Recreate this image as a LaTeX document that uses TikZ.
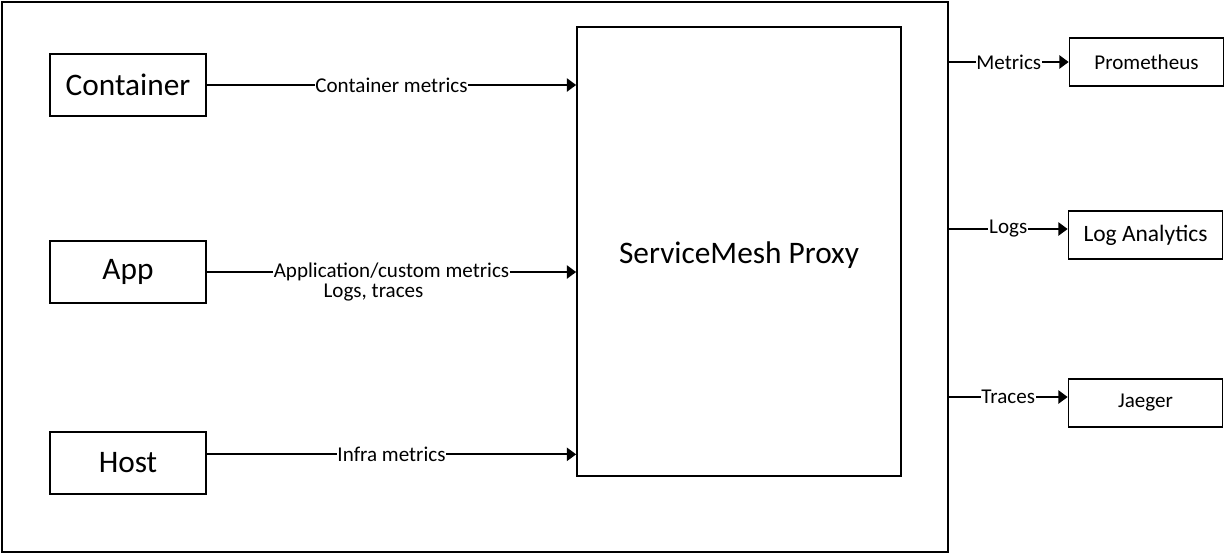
\documentclass[tikz,border=0pt]{standalone}
\usepackage{fontspec}
\setmainfont{Carlito}
\usetikzlibrary{arrows.meta}
\begin{document}
\begin{tikzpicture}[x=0.75pt,y=-0.75pt,
  box/.style={draw=black,line width=1.3pt,fill=white,inner sep=0pt,align=center},
  src/.style={box,minimum width=117pt,minimum height=46.5pt,font=\fontsize{23.5}{28}\selectfont},
  dst/.style={box,minimum width=115.5pt,minimum height=36pt,font=\fontsize{15.8}{19}\selectfont},
  arr/.style={line width=1.3pt,-{Triangle[length=7pt,width=10pt]}},
  lbl/.style={fill=white,inner sep=0.6pt,font=\fontsize{15.8}{19}\selectfont}]
\useasboundingbox (0,0) rectangle (1226,554);
\node[box,minimum width=709.5pt,minimum height=412.5pt] (outer) at (475,277) {};
\node[src] (container) at (128,85) {Container};
\node[src] (app) at (128,272) {App};
\node[src] (host) at (128,463) {Host};
\node[box,minimum width=243pt,minimum height=336.75pt] (proxy) at (739,251.5) {};
\node[font=\fontsize{23.5}{28}\selectfont,inner sep=0pt] (proxylbl) at ([yshift=-2.5pt]proxy.center) {ServiceMesh Proxy};
\node[dst] (prom) at (1146.5,62) {Prometheus};
\node[dst,font=\fontsize{17.6}{21}\selectfont] (la) at (1145.5,235) {Log Analytics};
\node[dst] (jaeger) at (1145.5,403) {Jaeger};

\draw[arr] (container.east) -- (container.east -| proxy.west) node[lbl,midway] {Container metrics};
\draw[arr] (app.east) -- (app.east -| proxy.west) node[lbl,midway] (applbl) {Application/custom metrics};
\node[font=\fontsize{15.8}{19}\selectfont,inner sep=0pt,anchor=north] (logslbl) at ([xshift=-13.5pt,yshift=-0.5pt]applbl.south) {Logs, traces};
\path ([yshift=6.5pt]host.east) coordinate (hs);
\draw[arr] (hs) -- (hs -| proxy.west) node[lbl,midway] {Infra metrics};

\draw[arr] (prom.west -| outer.east) -- (prom.west) node[lbl,midway] {Metrics};
\path ([yshift=4.5pt]la.west) coordinate (ls);
\draw[arr] (ls -| outer.east) -- (ls) node[lbl,midway] {Logs};
\path ([yshift=4.5pt]jaeger.west) coordinate (js);
\draw[arr] (js -| outer.east) -- (js) node[lbl,midway] {Traces};
\end{tikzpicture}
\end{document}
